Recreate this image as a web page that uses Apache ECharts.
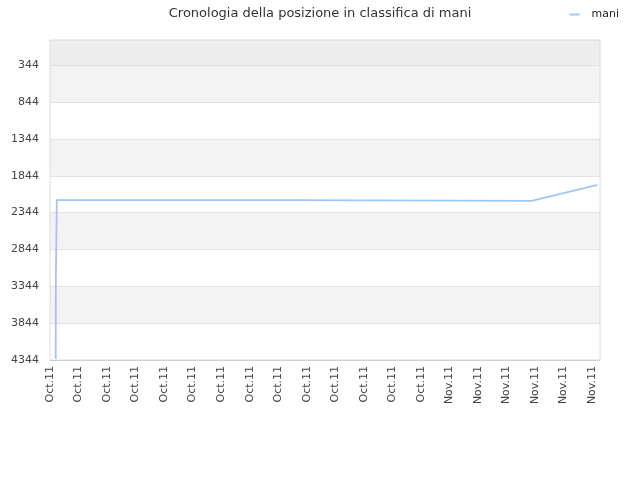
<!DOCTYPE html>
<html>
<head>
<meta charset="utf-8">
<script src="https://cdn.jsdelivr.net/npm/echarts@6/dist/echarts.min.js"></script>
<style>
  html, body { margin: 0; padding: 0; background: #fff; }
  #chart { width: 640px; height: 480px; }
</style>
</head>
<body>
<div id="chart"></div>
<script>
const chartTitle = 'Cronologia della posizione in classifica di mani';
const seriesName = 'mani';
// time of each snapshot and the rank held
const times = ['2011-10-05 09:36', '2011-10-05 09:50', '2011-10-05 11:17', '2011-10-05 11:31',
  '2011-10-22 01:26', '2011-10-22 01:41', '2011-11-07 18:29', '2011-11-12 09:22'];
const ranks = [4330, 3259, 3259, 2175, 2175, 2184, 2184, 1967];
const rankTicks = [344, 844, 1344, 1844, 2344, 2844, 3344, 3844, 4344];
const rankMin = 1;
const rankMax = 4344;
const xStart = '2011-10-05 00:00';
const xEnd = '2011-11-12 13:26';
const monthNames = ['Jan', 'Feb', 'Mar', 'Apr', 'May', 'Jun', 'Jul', 'Aug', 'Sep', 'Oct', 'Nov', 'Dec'];

const DAY = 24 * 3600 * 1000;
function toUtc(s) {
  const [d, t] = s.split(' ');
  const [y, m, dd] = d.split('-').map(Number);
  const [h, mi] = t.split(':').map(Number);
  return Date.UTC(y, m - 1, dd, h, mi);
}
function monthLabel(v) {
  const d = new Date(v);
  return monthNames[d.getUTCMonth()] + '.' + String(d.getUTCFullYear()).slice(2);
}

const points = times.map((t, i) => [toUtc(t), ranks[i]]);

// shaded bands: the strip above the first tick, then every other interval
const bands = [[
  { yAxis: rankMin, itemStyle: { color: '#ededed' } },
  { yAxis: rankTicks[0] }
]];
for (let i = 0; i + 1 < rankTicks.length; i += 2) {
  bands.push([
    { yAxis: rankTicks[i], itemStyle: { color: '#f3f3f3' } },
    { yAxis: rankTicks[i + 1] }
  ]);
}

const font = 'DejaVu Sans';
const chart = echarts.init(document.getElementById('chart'), null, { renderer: 'canvas' });
chart.setOption({
  animation: false,
  backgroundColor: '#fff',
  title: {
    text: chartTitle,
    left: 'center',
    top: 2,
    textStyle: { fontFamily: font, fontSize: 13, fontWeight: 'normal', color: '#333' }
  },
  legend: {
    data: [seriesName],
    right: 16,
    top: 4,
    itemWidth: 10,
    itemHeight: 2,
    icon: 'rect',
    textStyle: { fontFamily: font, fontSize: 11, color: '#222', padding: [0, 0, 0, 7] }
  },
  grid: {
    left: 50, right: 40, top: 40, bottom: 120,
    show: true,
    z: 2,
    borderColor: '#dcdcdc',
    borderWidth: 1,
    backgroundColor: 'transparent'
  },
  xAxis: {
    type: 'value',
    z: 2,
    min: toUtc(xStart),
    max: toUtc(xEnd),
    interval: 2 * DAY,
    axisLine: { show: true, lineStyle: { color: '#d0d0d0' } },
    axisTick: { show: false },
    splitLine: { show: false },
    axisLabel: {
      rotate: 90,
      margin: 6,
      showMaxLabel: false,
      fontFamily: font,
      fontSize: 11,
      color: '#444',
      formatter: monthLabel
    }
  },
  yAxis: {
    type: 'value',
    z: 2,
    inverse: true,
    min: rankMin,
    max: rankMax,
    axisLine: { show: false },
    axisTick: { show: false, customValues: rankTicks },
    axisLabel: {
      customValues: rankTicks,
      margin: 11,
      fontFamily: font,
      fontSize: 11,
      color: '#444',
      formatter: v => String(v)
    },
    splitLine: { show: true, lineStyle: { color: '#e2e2e2', width: 1 } },
    splitArea: { show: false }
  },
  series: [
    {
      type: 'line',
      name: 'bands',
      data: [],
      silent: true,
      z: 0,
      markArea: { silent: true, data: bands }
    },
    {
      type: 'line',
      name: seriesName,
      data: points,
      showSymbol: false,
      symbol: 'none',
      z: 5,
      color: '#9ec8f3',
      lineStyle: { width: 1.8, color: '#9ec8f3' }
    }
  ]
});
</script>
</body>
</html>
